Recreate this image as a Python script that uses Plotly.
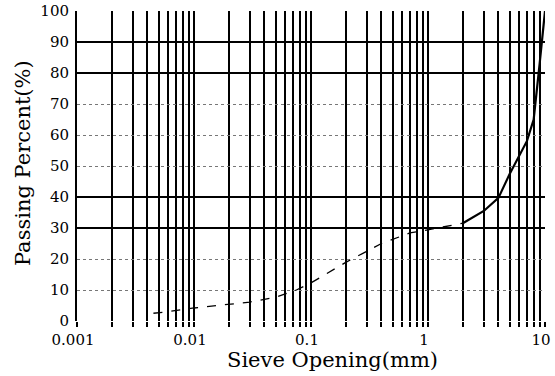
import plotly.graph_objects as go

# Data (grain-size distribution curve)
sieve_mm = [0.0045, 0.006, 0.01, 0.02, 0.03, 0.05, 0.075, 0.1, 0.2, 0.4, 0.7, 1.0, 2.0,
            3.0, 4.0, 5.0, 7.0, 8.0, 9.0, 10.0]
passing_pct = [2.5, 3.0, 4.2, 5.3, 6.1, 7.7, 10.0, 12.3, 19.0, 25.0, 28.4, 29.4, 31.6,
               35.5, 39.7, 47.5, 58.0, 65.0, 83.0, 100.0]
split_index = 12  # finer part drawn dashed, coarser part solid

x_tickvals = [0.001, 0.01, 0.1, 1, 10]
x_ticktext = ["0.001", "0.01", "0.1", "1", "10"]
y_tickvals = [0, 10, 20, 30, 40, 50, 60, 70, 80, 90, 100]
y_solid_grid = [30, 40, 80, 90]
x_title = "Sieve Opening(mm)"
y_title = "Passing Percent(%)"

FONT = "DejaVu Serif"

fig = go.Figure()
fig.add_trace(go.Scatter(
    x=sieve_mm[:split_index + 1], y=passing_pct[:split_index + 1],
    mode="lines", line=dict(color="black", width=1.3, dash="dash"),
    showlegend=False, hoverinfo="skip"))
fig.add_trace(go.Scatter(
    x=sieve_mm[split_index:], y=passing_pct[split_index:],
    mode="lines", line=dict(color="black", width=2.2),
    showlegend=False, hoverinfo="skip"))
# invisible trace to activate the overlay y axis
fig.add_trace(go.Scatter(x=[sieve_mm[0]], y=[passing_pct[0]], yaxis="y2",
                         mode="markers", marker=dict(opacity=0),
                         showlegend=False, hoverinfo="skip"))

fig.update_layout(
    width=555, height=376,
    margin=dict(l=77, r=10, t=11, b=55, autoexpand=False),
    paper_bgcolor="white", plot_bgcolor="white",
    font=dict(family=FONT, color="black", size=15),
    xaxis=dict(
        type="log", range=[-3, 1], automargin=False,
        tickvals=x_tickvals, ticktext=x_ticktext, ticklabelshift=-4,
        showgrid=True, gridcolor="black", gridwidth=2,
        ticks="outside", ticklen=5, tickcolor="black", tickwidth=2,
        minor=dict(dtick="D1", showgrid=True, gridcolor="black", gridwidth=1.8,
                   ticks="outside", ticklen=5, tickcolor="black", tickwidth=1.8),
        showline=False, zeroline=False,
        tickfont=dict(size=15, family=FONT),
    ),
    yaxis=dict(
        range=[0, 100], tickvals=y_tickvals, automargin=False,
        showgrid=True, gridcolor="#777777", gridwidth=1, griddash="dot",
        ticks="", showline=True, linecolor="black", linewidth=2,
        ticklabelstandoff=3,
        zeroline=False, tickfont=dict(size=15, family=FONT),
    ),
    yaxis2=dict(
        overlaying="y", range=[0, 100], tickvals=y_solid_grid,
        showgrid=True, gridcolor="black", gridwidth=1.5,
        showticklabels=False, ticks="", zeroline=False, showline=False,
    ),
    annotations=[
        dict(text=x_title, xref="paper", yref="paper", x=0.547, y=-0.126,
             showarrow=False, xanchor="center", yanchor="middle",
             font=dict(size=21, family=FONT)),
        dict(text=y_title, xref="paper", yref="paper", x=-0.115, y=0.51,
             showarrow=False, xanchor="center", yanchor="middle", textangle=-90,
             font=dict(size=21, family=FONT)),
    ],
)

# remove the browser's default 8px body margin so the figure fills the window exactly
fig.write_html("out.html", config={"displayModeBar": False},
               post_script="document.body.style.margin='0';")
